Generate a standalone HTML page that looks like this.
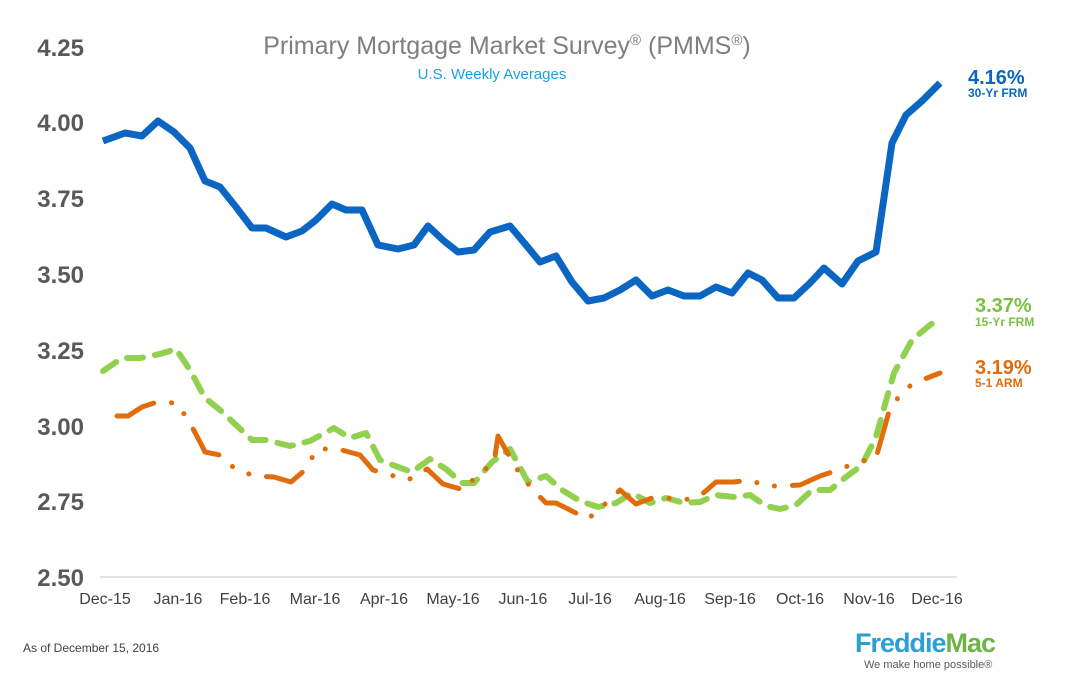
<!DOCTYPE html>
<html><head><meta charset="utf-8"><style>
html,body{margin:0;padding:0;background:#fff;}
body{width:1078px;height:672px;overflow:hidden;font-family:"Liberation Sans",Arial,sans-serif;}
</style></head><body>
<svg width="1078" height="672" viewBox="0 0 1078 672" xmlns="http://www.w3.org/2000/svg" font-family="Liberation Sans, Arial, sans-serif">
<rect width="1078" height="672" fill="#fff"/>
<text x="507" y="54" text-anchor="middle" font-size="25" fill="#7f7f7f">Primary Mortgage Market Survey<tspan font-size="15" dy="-9">®</tspan><tspan dy="9"> (PMMS</tspan><tspan font-size="15" dy="-9">®</tspan><tspan dy="9">)</tspan></text>
<text x="492" y="79" text-anchor="middle" font-size="15" fill="#1aa0e8">U.S. Weekly Averages</text>
<g font-size="24" font-weight="bold" fill="#595959" text-anchor="end">
<text x="84" y="56">4.25</text><text x="84" y="131">4.00</text><text x="84" y="207">3.75</text>
<text x="84" y="283">3.50</text><text x="84" y="359">3.25</text><text x="84" y="435">3.00</text>
<text x="84" y="510">2.75</text><text x="84" y="586">2.50</text></g>
<line x1="100" y1="577" x2="957" y2="577" stroke="#d9d9d9" stroke-width="1.5"/>
<g font-size="16" fill="#404040" text-anchor="middle">
<text x="105" y="604">Dec-15</text><text x="178" y="604">Jan-16</text><text x="245" y="604">Feb-16</text>
<text x="315" y="604">Mar-16</text><text x="384" y="604">Apr-16</text><text x="453" y="604">May-16</text>
<text x="523" y="604">Jun-16</text><text x="590" y="604">Jul-16</text><text x="660" y="604">Aug-16</text>
<text x="730" y="604">Sep-16</text><text x="800" y="604">Oct-16</text><text x="869" y="604">Nov-16</text>
<text x="937" y="604">Dec-16</text></g>
<polyline fill="none" stroke="#92d050" stroke-width="6" stroke-linecap="round" stroke-linejoin="round" stroke-dasharray="16 12"
points="103,371 122,358 140,358 160,354 176,349 190,370 205,398 220,410 236,425 252,440 266,440 290,446 310,441 334,428 350,438 366,433 380,460 398,467 412,472 430,459 446,469 462,483 474,483 492,462 510,449 528,482 546,476 562,490 580,501 598,507 616,503 632,493 650,503 666,498 684,503 700,502 716,495 734,497 750,495 766,506 780,509 796,505 812,490 830,490 846,477 862,465 876,437 884,408 894,373 912,340 930,325 940,318"/>
<polyline fill="none" stroke="#e36c0a" stroke-width="5" stroke-linecap="round" stroke-linejoin="round" stroke-dasharray="40 18 0.1 18 0.1 18"
points="117,416 128,416 142,407 157,402 177,403 190,423 201,444 205,452 220,455 234,468 254,476 274,477 291,482 305,470 317,449 338,449 360,455 373,470 408,480 427,469 443,484 464,490 478,474 494,463 498,436 516,468 532,489 546,503 556,503 572,511 588,519 604,505 620,490 636,504 652,498 668,498 684,500 700,496 716,482 734,482 750,480 766,486 782,486 800,485 820,476 838,470 858,462 876,458 890,408 906,388 922,380 940,373"/>
<polyline fill="none" stroke="#0a66c2" stroke-width="7" stroke-linejoin="round"
points="103,141 125,133 142,136 158,121 174,132 190,148 205,181 220,187 236,207 252,228 266,228 286,237 302,231 316,220 332,204 346,210 362,210 378,245 398,249 414,245 428,226 444,241 458,252 474,250 490,232 510,226 526,245 540,262 556,256 572,282 588,301 604,298 620,290 636,280 652,296 668,290 684,296 700,296 716,287 732,293 748,273 762,280 778,298 794,298 810,283 824,268 842,284 858,261 876,252 892,143 906,115 922,101 940,83"/>
<g font-weight="bold">
<text x="968" y="84" font-size="20" fill="#0a66c2">4.16%</text>
<text x="968" y="97" font-size="12" fill="#0a66c2">30-Yr FRM</text>
<text x="975" y="312" font-size="20" fill="#7ac143">3.37%</text>
<text x="975" y="326" font-size="12" fill="#7ac143">15-Yr FRM</text>
<text x="975" y="374" font-size="20" fill="#e36c0a">3.19%</text>
<text x="975" y="387" font-size="12" fill="#e36c0a">5-1 ARM</text>
</g>
<text x="23" y="652" font-size="12" fill="#404040">As of December 15, 2016</text>
<text x="855" y="652" font-size="27" font-weight="bold" fill="#2a9fd6" letter-spacing="-1">Freddie<tspan fill="#6bb445">Mac</tspan></text>
<text x="864" y="668" font-size="11" fill="#595959">We make home possible®</text>
</svg>
</body></html>
